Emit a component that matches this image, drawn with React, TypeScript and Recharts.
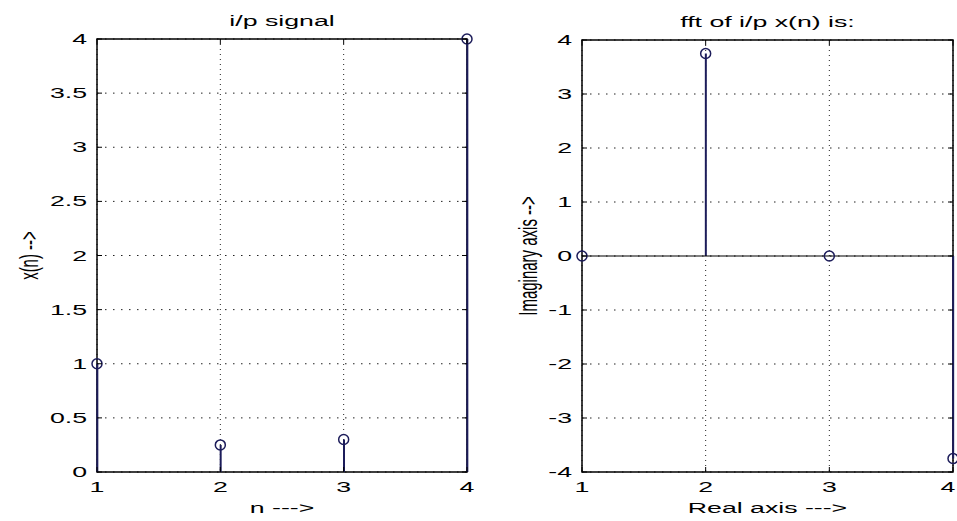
import {
  ComposedChart,
  Scatter,
  Bar,
  XAxis,
  YAxis,
  CartesianGrid,
  ReferenceArea,
  ReferenceLine,
} from "recharts";

// i/p signal
const N = [1, 2, 3, 4];
const XN = [1, 0.25, 0.3, 4];
// fft of i/p
const REAL = [1, 2, 3, 4];
const IMAG = [0, 3.75, 0, -3.75];

const X_TICKS = [1, 2, 3, 4];
const LEFT_Y_TICKS = [0, 0.5, 1, 1.5, 2, 2.5, 3, 3.5, 4];
const RIGHT_Y_TICKS = [-4, -3, -2, -1, 0, 1, 2, 3, 4];

const FONT = "'Liberation Sans', Arial, sans-serif";
const SX = 1.78;
const STEM = "#1c1c5a";

const StretchText = ({ x, y, anchor, rotate, children }: any) => (
  <text
    transform={`translate(${x},${y}) scale(${SX},1)${rotate ? " rotate(-90)" : ""}`}
    textAnchor={anchor}
    fontSize={15}
    fontFamily={FONT}
    fill="#000"
  >
    {children}
  </text>
);

// inward ticks on both sides of the box, stretched labels like the original
const makeXTick = (plotH: number, chartW: number) => (props: any) => {
  const { x, y, payload } = props;
  const lx = Math.min(x, chartW - 9);
  return (
    <g>
      <line x1={x} y1={y} x2={x} y2={y - 5} stroke="#000" />
      <line x1={x} y1={y - plotH} x2={x} y2={y - plotH + 5} stroke="#000" />
      <StretchText x={lx} y={y + 20} anchor="middle">
        {String(payload.value)}
      </StretchText>
    </g>
  );
};

const makeYTick = (plotW: number) => (props: any) => {
  const { x, y, payload } = props;
  return (
    <g>
      <line x1={x} y1={y} x2={x + 5} y2={y} stroke="#000" />
      <line x1={x + plotW} y1={y} x2={x + plotW - 5} y2={y} stroke="#000" />
      <StretchText x={x - 10} y={y + 5} anchor="end">
        {String(payload.value)}
      </StretchText>
    </g>
  );
};

const Circle = (props: any) => {
  const { cx, cy } = props;
  return <circle cx={cx} cy={cy} r={5} fill="none" stroke={STEM} strokeWidth={1.5} />;
};

const StemPlot = ({
  data,
  width,
  height,
  margin,
  yWidth,
  yDomain,
  yTicks,
  title,
  xLabel,
  yLabel,
  yLabelX,
  baseline,
}: any) => {
  const plotW = width - margin.left - margin.right - yWidth;
  const plotH = height - margin.top - 49;
  return (
    <ComposedChart width={width} height={height} data={data} margin={margin}>
      <CartesianGrid horizontal={false} stroke="#222" strokeDasharray="1 4" />
      <CartesianGrid vertical={false} stroke="#222" strokeDasharray="1.5 6.5" />
      <XAxis
        dataKey="x"
        type="number"
        domain={[1, 4]}
        ticks={X_TICKS}
        height={49}
        axisLine={false}
        tickLine={false}
        tickSize={0}
        tickMargin={0}
        tick={makeXTick(plotH, width)}
        label={{
          content: (p: any) => (
            <StretchText x={p.viewBox.x + p.viewBox.width / 2} y={p.viewBox.y + 41} anchor="middle">
              {xLabel}
            </StretchText>
          ),
        }}
      />
      <YAxis
        type="number"
        domain={yDomain}
        ticks={yTicks}
        width={yWidth}
        axisLine={false}
        tickLine={false}
        tickSize={0}
        tickMargin={0}
        tick={makeYTick(plotW)}
        label={{
          content: (p: any) => (
            <StretchText x={yLabelX} y={p.viewBox.y + p.viewBox.height / 2} anchor="middle" rotate>
              {yLabel}
            </StretchText>
          ),
        }}
      />
      {baseline && <ReferenceLine y={0} stroke="#000" strokeWidth={1.2} />}
      <Bar dataKey="y" barSize={2} fill={STEM} isAnimationActive={false} />
      <Scatter dataKey="y" shape={<Circle />} isAnimationActive={false} />
      <ReferenceArea
        x1={1}
        x2={4}
        y1={yDomain[0]}
        y2={yDomain[1]}
        fill="none"
        stroke="#000"
        strokeWidth={1.5}
        fillOpacity={0}
        label={{
          content: (p: any) => (
            <StretchText x={p.viewBox.x + p.viewBox.width / 2} y={p.viewBox.y - 13} anchor="middle">
              {title}
            </StretchText>
          ),
        }}
      />
    </ComposedChart>
  );
};

const leftData = N.map((n, i) => ({ x: n, y: XN[i] }));
const rightData = REAL.map((r, i) => ({ x: r, y: IMAG[i] }));

export default function App() {
  return (
    <div
      style={{
        position: "absolute",
        left: 0,
        top: 0,
        width: 957,
        height: 521,
        background: "#fff",
        overflow: "hidden",
      }}
    >
      <div style={{ position: "absolute", left: 0, top: 0 }}>
        <StemPlot
          data={leftData}
          width={478}
          height={521}
          margin={{ top: 39, right: 11, bottom: 0, left: 0 }}
          yWidth={97}
          yDomain={[0, 4]}
          yTicks={LEFT_Y_TICKS}
          title="i/p signal"
          xLabel="n --->"
          yLabel="x(n) -->"
          yLabelX={38}
          baseline={false}
        />
      </div>
      <div style={{ position: "absolute", left: 478, top: 0 }}>
        <StemPlot
          data={rightData}
          width={479}
          height={521}
          margin={{ top: 40, right: 4, bottom: 0, left: 0 }}
          yWidth={104}
          yDomain={[-4, 4]}
          yTicks={RIGHT_Y_TICKS}
          title="fft of i/p x(n) is:"
          xLabel="Real axis --->"
          yLabel="Imaginary axis -->"
          yLabelX={59}
          baseline={true}
        />
      </div>
    </div>
  );
}
